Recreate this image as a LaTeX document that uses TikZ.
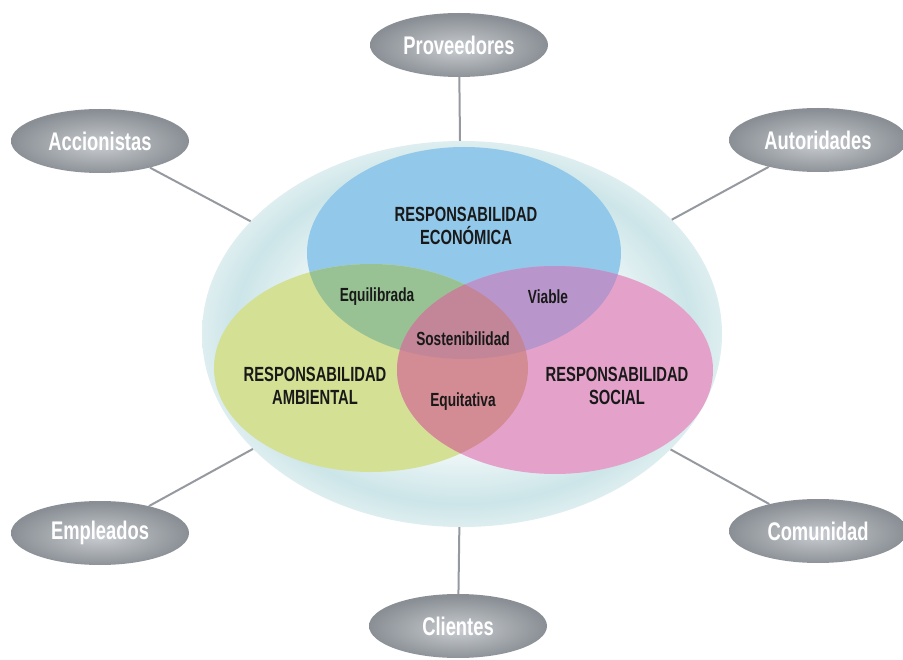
\documentclass[tikz,border=0pt]{standalone}
\usepackage{fontspec}
\setmainfont{Liberation Sans}
\newfontfamily\condfont[FakeStretch=0.72]{Liberation Sans}
\usetikzlibrary{shapes.geometric}
\definecolor{blueC}{RGB}{146,200,234}
\definecolor{greenC}{RGB}{212,224,148}
\definecolor{pinkC}{RGB}{228,162,202}
\definecolor{gbC}{RGB}{152,194,148}
\definecolor{bpC}{RGB}{184,150,204}
\definecolor{gpC}{RGB}{212,140,148}
\definecolor{allC}{RGB}{194,134,152}
\definecolor{haloC}{RGB}{204,229,232}
\definecolor{haloEdge}{RGB}{222,238,240}
\definecolor{satIn}{RGB}{200,204,208}
\definecolor{satOut}{RGB}{138,143,149}
\definecolor{connC}{RGB}{150,154,160}
\definecolor{txtC}{RGB}{25,25,25}
\pgfdeclareradialshading{haloshade}{\pgfpoint{0bp}{0bp}}{color(0bp)=(white); color(12bp)=(white); color(22bp)=(haloC); color(25bp)=(haloEdge); color(50bp)=(white)}
\pgfdeclareradialshading{satshade}{\pgfpoint{0bp}{-3bp}}{color(0bp)=(satIn); color(25bp)=(satOut); color(50bp)=(satOut)}
\tikzset{
  sat/.style={ellipse, minimum width=178pt, minimum height=64pt, inner sep=0pt,
    shading=satshade, text=white, font=\condfont\bfseries\fontsize{25.5}{25.5}\selectfont},
  halo/.style={ellipse, minimum width=520pt, minimum height=386pt, inner sep=0pt, shading=haloshade},
  conn/.style={draw=connC, line width=2pt},
  biglbl/.style={align=center, text=txtC, font=\condfont\bfseries\fontsize{20.5}{23}\selectfont},
  smalllbl/.style={text=txtC, font=\condfont\bfseries\fontsize{19}{20}\selectfont}
}
\begin{document}
\begin{tikzpicture}[x=1pt,y=-1pt]
\useasboundingbox[fill=white] (0,0) rectangle (903,660);
% halo
\node[halo] (halo) at (462,334) {};
% Venn ellipses
\fill[blueC] (464,253) ellipse [x radius=157pt, y radius=106pt];
\fill[greenC] (371,368) ellipse [x radius=157pt, y radius=104pt];
\fill[pinkC] (555,370) ellipse [x radius=158pt, y radius=104pt];
\begin{scope}
  \clip (464,253) ellipse [x radius=157pt, y radius=106pt];
  \fill[gbC] (371,368) ellipse [x radius=157pt, y radius=104pt];
  \fill[bpC] (555,370) ellipse [x radius=158pt, y radius=104pt];
\end{scope}
\begin{scope}
  \clip (371,368) ellipse [x radius=157pt, y radius=104pt];
  \fill[gpC] (555,370) ellipse [x radius=158pt, y radius=104pt];
\end{scope}
\begin{scope}
  \clip (464,253) ellipse [x radius=157pt, y radius=106pt];
  \clip (371,368) ellipse [x radius=157pt, y radius=104pt];
  \fill[allC] (555,370) ellipse [x radius=158pt, y radius=104pt];
\end{scope}
% labels
\node[biglbl] (econ) at (466,226) {RESPONSABILIDAD\\ECONÓMICA};
\node[biglbl] (amb) at (315,386) {RESPONSABILIDAD\\AMBIENTAL};
\node[biglbl] (soc) at (617,386) {RESPONSABILIDAD\\SOCIAL};
\node[smalllbl] (equil) at (377,297) {Equilibrada};
\node[smalllbl] (viable) at (548,297) {Viable};
\node[smalllbl] (sost) at (463,339) {Sostenibilidad};
\node[smalllbl] (equit) at (463,402) {Equitativa};
% satellites
\node[sat] (prov) at (459,45) {Proveedores};
\node[sat] (acc) at (100,141) {Accionistas};
\node[sat] (aut) at (818,140) {Autoridades};
\node[sat] (emp) at (100,533) {Empleados};
\node[sat] (com) at (818,531) {Comunidad};
\node[sat] (cli) at (458,626) {Clientes};
% connectors
\draw[conn] (prov) -- (halo);
\draw[conn] (acc) -- (halo);
\draw[conn] (aut) -- (halo);
\draw[conn] (emp) -- (halo);
\draw[conn] (com) -- (halo);
\draw[conn] (cli) -- (halo);
\end{tikzpicture}
\end{document}
